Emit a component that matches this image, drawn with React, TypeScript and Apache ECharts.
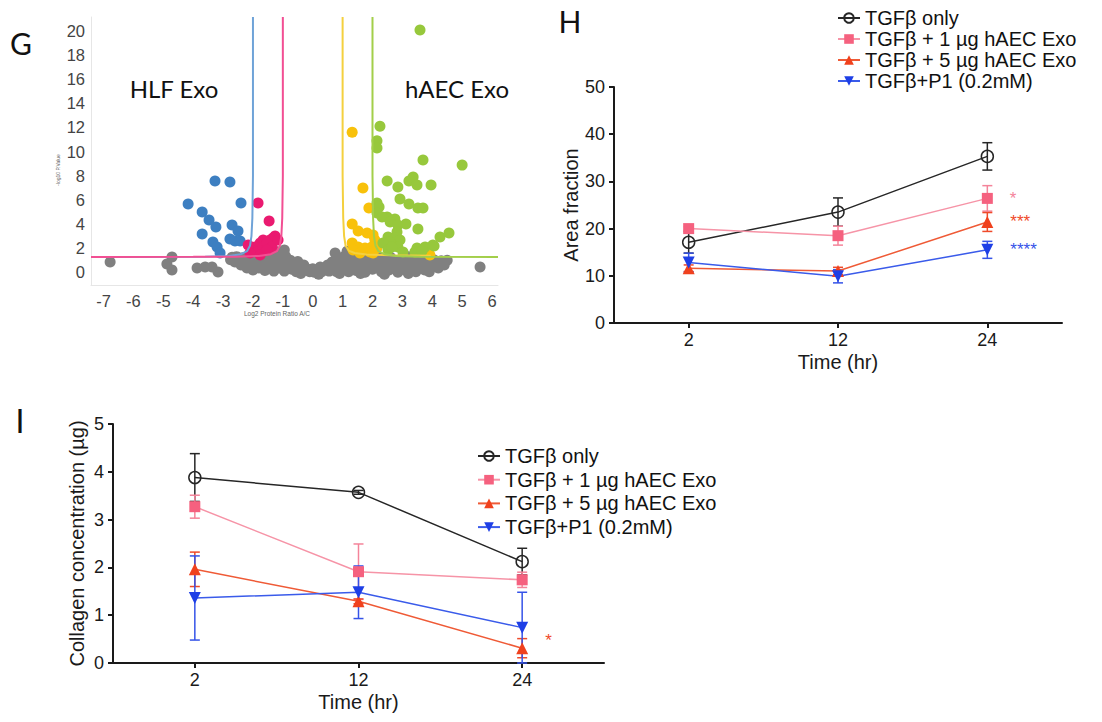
import React, { useEffect, useRef } from 'react';
import * as echarts from 'echarts';

// ---------- Panel G (volcano) ----------
const gXTicks = [-7, -6, -5, -4, -3, -2, -1, 0, 1, 2, 3, 4, 5, 6];
const gYTicks = [0, 2, 4, 6, 8, 10, 12, 14, 16, 18, 20];

const grayPts = [
  [-6.78, 0.85], [-4.71, 1.27], [-4.88, 0.69], [-4.71, 0.19], [-3.87, 0.36], [-3.6, 0.44], [-3.37, 0.44], [-3.17, 0.02], [5.6, 0.44],
  [-2.75, 1.05], [-2.7, 1.25], [-2.6, 0.85], [-2.55, 1.3], [-2.45, 0.95], [-2.4, 0.6], [-2.35, 1.2], [-2.25, 0.75], [-2.2, 0.35],
  [-2.15, 1.1], [-2.05, 0.55], [-2.0, 0.2], [-1.95, 1.25], [-1.85, 0.8], [-1.8, 0.35], [-1.75, 1.1], [-1.65, 0.6], [-1.6, 0.15],
  [-1.55, 1.3], [-1.5, 0.9], [-1.45, 0.4], [-1.35, 1.15], [-1.3, 0.1], [-1.25, 0.65], [-1.15, 1.3], [-1.1, 0.35], [-1.05, 0.9],
  [-0.95, 1.85], [-0.95, 0.1], [-0.9, 1.3], [-0.85, 0.6], [-0.75, 1.0], [-0.7, 0.25], [-0.6, 0.7], [-0.55, 0.05], [-0.5, 0.9],
  [-0.45, 0.4], [-0.35, 0.1], [-0.3, 0.6], [-0.2, 0.3], [-0.1, 0.05], [0.0, 0.3], [0.05, 0.0], [0.15, 0.2], [0.25, 0.45],
  [0.3, 0.05], [0.4, 0.3], [0.5, 0.6], [0.55, 0.1], [0.65, 0.85], [0.7, 0.35], [0.75, 1.6], [0.8, 0.05], [0.85, 1.1],
  [0.9, 0.6], [1.0, 0.2], [1.05, 1.3], [1.1, 0.75], [1.15, 1.75], [1.2, 0.05], [1.25, 0.45], [1.3, 1.2], [1.4, 0.8],
  [1.45, 0.15], [1.55, 1.4], [1.6, 0.5], [1.7, 1.0], [1.75, 0.0], [1.85, 0.65], [1.9, 1.3], [2.0, 0.25], [2.05, 0.95],
  [2.15, 1.4], [2.2, 0.5], [2.3, 0.05], [2.35, 1.1], [2.45, 0.7], [2.55, 0.2], [2.6, 1.25], [2.7, 0.85], [2.8, 0.4],
  [2.85, 0.0], [2.95, 1.1], [3.0, 0.6], [3.1, 0.2], [3.2, 1.3], [3.25, 0.8], [3.35, 0.35], [3.45, 0.05], [3.5, 1.0],
  [3.6, 0.55], [3.7, 1.3], [3.75, 0.2], [3.85, 0.8], [3.95, 0.4], [4.05, 1.05], [4.1, 0.6], [4.2, 0.35], [4.3, 0.95],
  [4.4, 0.6], [4.5, 1.0],
  [-1.9, 1.6], [-1.4, 1.55], [-1.2, 1.7], [-0.4, -0.1], [0.2, -0.15], [0.9, -0.1], [1.6, -0.1], [2.4, -0.15], [3.2, -0.1], [3.9, 0.05],
];
const bluePts = [
  [-3.27, 7.56], [-2.77, 7.48], [-4.17, 5.66], [-2.4, 5.74], [-3.7, 5.0], [-3.47, 4.33], [-3.24, 3.75], [-2.7, 3.92],
  [-2.5, 3.42], [-3.7, 3.17], [-3.34, 2.51], [-2.77, 2.76], [-2.6, 2.59], [-2.43, 2.59], [-3.2, 2.1], [-3.1, 1.6],
];
const pinkPts = [
  [-1.83, 5.74], [-1.46, 4.25], [-1.26, 3.01], [-1.33, 2.84], [-1.43, 2.68], [-1.66, 2.68], [-1.76, 2.43], [-1.93, 2.1],
  [-2.03, 1.85], [-1.86, 1.68], [-1.66, 2.1], [-1.53, 2.43], [-1.76, 1.43], [-2.1, 1.6], [-1.36, 2.1], [-1.53, 1.85],
  [-1.16, 2.68], [-2.16, 2.26],
];
const yellowPts = [
  [1.32, 11.6], [1.68, 6.98], [1.88, 5.33], [1.32, 4.0], [1.52, 3.42], [1.82, 3.26], [2.02, 3.09], [2.08, 2.68],
  [1.32, 2.43], [1.52, 2.1], [1.75, 2.01], [1.98, 2.1], [2.15, 2.01], [1.35, 1.85], [1.92, 1.68], [3.92, 1.43],
  [2.02, 1.6], [1.58, 1.6],
];
const greenPts = [
  [3.59, 20.07], [2.25, 12.1], [2.15, 10.9], [2.15, 10.3], [3.69, 9.3], [5.0, 8.88], [2.49, 7.56], [2.85, 7.07],
  [3.22, 7.56], [3.36, 7.9], [3.49, 7.23], [3.96, 7.23], [2.92, 6.07], [3.22, 5.66], [3.52, 5.33], [3.69, 5.33],
  [2.15, 5.74], [2.22, 5.41], [2.15, 4.91], [2.49, 4.58], [2.75, 4.42], [2.32, 4.58], [2.59, 4.17], [2.85, 3.92],
  [3.12, 4.0], [3.52, 3.59], [2.82, 3.34], [2.52, 2.92], [4.26, 2.92], [4.56, 3.26], [2.75, 2.84], [2.92, 2.68],
  [2.59, 2.51], [2.35, 2.43], [2.85, 2.1], [3.49, 2.01], [3.76, 2.1], [4.06, 2.18], [2.52, 1.85], [3.02, 1.68],
  [3.42, 1.68], [3.66, 1.76], [2.65, 2.1], [4.02, 2.26],
];
const blueCurve = [
  [-2.0, 21.15], [-2.0, 8], [-2.02, 4.5], [-2.05, 3.0], [-2.1, 2.2], [-2.2, 1.75], [-2.4, 1.5], [-2.8, 1.36], [-3.6, 1.3], [-7.42, 1.27],
];
const pinkCurve = [
  [-1.0, 21.15], [-1.0, 8], [-1.02, 4.5], [-1.05, 3.0], [-1.1, 2.2], [-1.2, 1.75], [-1.4, 1.5], [-1.8, 1.36], [-2.6, 1.3], [-4.0, 1.28], [-7.42, 1.27],
];
const yellowCurve = [
  [1.0, 21.15], [1.0, 8], [1.02, 4.5], [1.05, 3.0], [1.1, 2.2], [1.2, 1.8], [1.4, 1.6], [1.8, 1.48], [2.6, 1.42], [3.95, 1.38],
];
const greenCurve = [
  [2.0, 21.15], [2.0, 8], [2.02, 4.5], [2.05, 3.0], [2.1, 2.2], [2.2, 1.75], [2.4, 1.5], [2.8, 1.36], [3.6, 1.3], [6.2, 1.27],
];

// ---------- Panels H and I ----------
const timeCats = ['2', '12', '24'];
const groupNames = ['TGFβ only', 'TGFβ + 1 µg hAEC Exo', 'TGFβ + 5 µg hAEC Exo', 'TGFβ+P1 (0.2mM)'];

const hMeans = [
  [17.1, 23.5, 35.3],
  [20.0, 18.5, 26.4],
  [11.6, 11.0, 21.4],
  [12.8, 9.9, 15.5],
];
const hErrs = [
  [2.3, 3.0, 2.9],
  [0.4, 2.0, 2.7],
  [0.7, 0.8, 2.0],
  [2.0, 1.4, 1.8],
];
const hStars = ['', '*', '***', '****'];

const iMeans = [
  [3.88, 3.57, 2.12],
  [3.27, 1.91, 1.74],
  [1.96, 1.29, 0.31],
  [1.36, 1.48, 0.74],
];
const iErrs = [
  [0.5, 0.04, 0.28],
  [0.24, 0.58, 0.16],
  [0.36, 0.05, 0.2],
  [0.88, 0.55, 0.74],
];
const iStars = ['', '', '*', ''];

const FONT = '"Liberation Sans", Arial, sans-serif';
const markerColors = ['#262626', '#f5617f', '#f0411d', '#1e3fe6'];
const lineColors = ['#262626', '#f694a7', '#ef5a36', '#3a5bea'];
const errColors = ['#262626', '#f4849a', '#ef4a2a', '#3553e8'];
const symbols = ['circle', 'rect', 'triangle', 'triangle'];
const symbolSizes = [12, 11, 12, 12];
const symbolRots = [0, 0, 0, 180];

function errSeries(xi: number, yi: number, means: number[], errs: number[], color: string) {
  const data = means.map((m, i) => [i, Math.max(0, m - errs[i]), m + errs[i]]);
  return {
    type: 'custom',
    xAxisIndex: xi,
    yAxisIndex: yi,
    z: 1,
    silent: true,
    data,
    encode: { x: 0, y: [1, 2] },
    renderItem: (_p: any, api: any) => {
      const i = api.value(0);
      const lo = api.coord([i, api.value(1)]);
      const hi = api.coord([i, api.value(2)]);
      const w = 5;
      const style = { stroke: color, lineWidth: 1.5, fill: 'none' };
      return {
        type: 'group',
        children: [
          { type: 'line', shape: { x1: lo[0], y1: lo[1], x2: hi[0], y2: hi[1] }, style },
          { type: 'line', shape: { x1: hi[0] - w, y1: hi[1], x2: hi[0] + w, y2: hi[1] }, style },
          { type: 'line', shape: { x1: lo[0] - w, y1: lo[1], x2: lo[0] + w, y2: lo[1] }, style },
        ],
      };
    },
  };
}

function lineSeries(idx: number, xi: number, yi: number, means: number[], star: string, starOffsetY: number) {
  return {
    type: 'line',
    name: groupNames[idx],
    xAxisIndex: xi,
    yAxisIndex: yi,
    z: 3,
    symbol: symbols[idx],
    symbolSize: symbolSizes[idx],
    symbolRotate: symbolRots[idx],
    showAllSymbol: true,
    emphasis: { disabled: true },
    lineStyle: { color: lineColors[idx], width: 1.5 },
    itemStyle:
      idx === 0
        ? { color: 'rgba(0,0,0,0)', borderColor: '#262626', borderWidth: 1.5 }
        : { color: markerColors[idx] },
    data: means.map((v, i) =>
      i === 2 && star
        ? {
            value: v,
            label: {
              show: true,
              formatter: star,
              position: 'right',
              distance: 17,
              offset: [0, starOffsetY],
              color: errColors[idx],
              fontSize: 17,
              fontFamily: FONT,
            },
          }
        : v
    ),
  };
}

function scatter(data: number[][], color: string, z: number) {
  return {
    type: 'scatter',
    xAxisIndex: 0,
    yAxisIndex: 0,
    symbolSize: 11,
    itemStyle: { color, opacity: 1 },
    emphasis: { disabled: true },
    silent: true,
    z,
    data,
  };
}

function curve(data: number[][], color: string, z: number) {
  return {
    type: 'line',
    xAxisIndex: 0,
    yAxisIndex: 0,
    showSymbol: false,
    symbol: 'none',
    silent: true,
    z,
    lineStyle: { color, width: 2 },
    data,
  };
}

const catAxis = (gridIndex: number) => ({
  type: 'category',
  gridIndex,
  data: timeCats,
  boundaryGap: true,
  name: 'Time (hr)',
  nameLocation: 'middle',
  nameGap: 29,
  nameTextStyle: { fontSize: 20, color: '#1a1a1a', fontFamily: FONT },
  axisLine: { onZero: false, lineStyle: { color: '#1a1a1a', width: 2 } },
  axisTick: { show: true, alignWithLabel: true, length: 5, lineStyle: { color: '#1a1a1a', width: 2 } },
  axisLabel: { fontSize: 18, color: '#1a1a1a', fontFamily: FONT, margin: 8 },
  splitLine: { show: false },
});

const valAxis = (gridIndex: number, max: number, interval: number, name: string, nameGap: number) => ({
  type: 'value',
  gridIndex,
  min: 0,
  max,
  interval,
  name,
  nameLocation: 'middle',
  nameGap,
  nameTextStyle: { fontSize: 20, color: '#1a1a1a', fontFamily: FONT },
  axisLine: { show: true, onZero: false, lineStyle: { color: '#1a1a1a', width: 2 } },
  axisTick: { show: true, length: 5, lineStyle: { color: '#1a1a1a', width: 2 } },
  axisLabel: { fontSize: 18, color: '#1a1a1a', fontFamily: FONT, margin: 9 },
  splitLine: { show: false },
});

export default function App() {
  const ref = useRef<HTMLDivElement>(null);
  useEffect(() => {
    document.body.style.margin = '0';
    if (!ref.current) return;
    const chart = echarts.init(ref.current, undefined, { renderer: 'svg' });

    const series: any[] = [
      scatter(grayPts, '#808080', 2),
      scatter(bluePts, '#3d7fc1', 3),
      scatter(pinkPts, '#ea1a70', 3),
      scatter(yellowPts, '#f8c10b', 3),
      scatter(greenPts, '#97c83c', 3),
      curve(blueCurve, '#6fa3d8', 4),
      curve(pinkCurve, '#f24f93', 5),
      curve(yellowCurve, '#f4d03f', 4),
      curve(greenCurve, '#a3cf4a', 5),
    ];
    for (let k = 0; k < 4; k++) {
      series.push(errSeries(1, 1, hMeans[k], hErrs[k], errColors[k]));
      series.push(lineSeries(k, 1, 1, hMeans[k], hStars[k], 0));
      series.push(errSeries(2, 2, iMeans[k], iErrs[k], errColors[k]));
      series.push(lineSeries(k, 2, 2, iMeans[k], iStars[k], -8));
    }

    const legendBase = {
      data: groupNames,
      orient: 'vertical',
      itemWidth: 22,
      itemHeight: 12,
      padding: 0,
      selectedMode: false,
      textStyle: { fontSize: 20, color: '#111', fontFamily: FONT, lineHeight: 18 },
    };

    chart.setOption({
      animation: false,
      backgroundColor: '#ffffff',
      grid: [
        { left: 91, top: 17, width: 407, height: 268 },
        { left: 614, top: 87, width: 448, height: 236 },
        { left: 113, top: 424, width: 491, height: 239 },
      ],
      xAxis: [
        {
          type: 'value',
          gridIndex: 0,
          min: -7.42,
          max: 6.2,
          axisLine: { show: true, onZero: false, lineStyle: { color: '#e6e6e6', width: 1 } },
          axisTick: { show: false },
          axisLabel: { customValues: gXTicks, fontSize: 16.5, color: '#444', fontFamily: FONT, margin: 7 },
          splitLine: { show: false },
        },
        catAxis(1),
        catAxis(2),
      ],
      yAxis: [
        {
          type: 'value',
          gridIndex: 0,
          min: -1.05,
          max: 21.15,
          axisLine: { show: true, onZero: false, lineStyle: { color: '#e6e6e6', width: 1 } },
          axisTick: { show: false },
          axisLabel: { customValues: gYTicks, fontSize: 16.5, color: '#444', fontFamily: FONT, margin: 6 },
          splitLine: { show: false },
        },
        valAxis(1, 50, 10, 'Area fraction', 32),
        valAxis(2, 5, 1, 'Collagen concentration (µg)', 26),
      ],
      legend: [
        { ...legendBase, left: 837, top: 8, itemGap: 1 },
        { ...legendBase, left: 477, top: 446, itemGap: 3.7 },
      ],
      graphic: [
        { type: 'text', x: 21, y: 43, style: { text: 'G', font: '30px Lato, sans-serif', fill: '#111', align: 'center', verticalAlign: 'middle' } },
        { type: 'text', x: 570, y: 21, style: { text: 'H', font: '30px Lato, sans-serif', fill: '#111', align: 'center', verticalAlign: 'middle' } },
        { type: 'text', x: 20, y: 420, style: { text: 'I', font: '32px Lato, sans-serif', fill: '#111', align: 'center', verticalAlign: 'middle' } },
        { type: 'text', x: 174, y: 88, style: { text: 'HLF Exo', font: '24px Lato, sans-serif', fill: '#111', align: 'center', verticalAlign: 'middle' } },
        { type: 'text', x: 457, y: 88, style: { text: 'hAEC Exo', font: '24px Lato, sans-serif', fill: '#111', align: 'center', verticalAlign: 'middle' } },
        { type: 'text', x: 58, y: 170, rotation: Math.PI / 2, style: { text: '-log10 P.Value', font: '5px ' + FONT, fill: '#666', align: 'center', verticalAlign: 'middle' } },
        { type: 'text', x: 277, y: 313, style: { text: 'Log2 Protein Ratio A/C', font: '6.5px ' + FONT, fill: '#666', align: 'center', verticalAlign: 'middle' } },
      ],
      series,
    });
    return () => chart.dispose();
  }, []);
  return <div ref={ref} style={{ width: 1102, height: 722 }} />;
}
